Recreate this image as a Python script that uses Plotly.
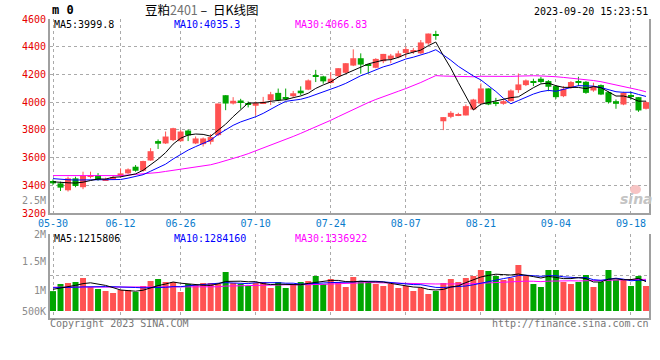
import plotly.graph_objects as go
import pandas as pd

# ---------------- data ----------------
dates = ["05-30", "05-31", "06-01", "06-02", "06-05", "06-06", "06-07", "06-08", "06-09",
         "06-12", "06-13", "06-14", "06-15", "06-16", "06-19", "06-20", "06-21",
         "06-26", "06-27", "06-28", "06-29", "06-30",
         "07-03", "07-04", "07-05", "07-06", "07-07", "07-10", "07-11", "07-12", "07-13", "07-14",
         "07-17", "07-18", "07-19", "07-20", "07-21", "07-24", "07-25", "07-26", "07-27", "07-28",
         "07-31", "08-01", "08-02", "08-03", "08-04", "08-07", "08-08", "08-09", "08-10", "08-11",
         "08-14", "08-15", "08-16", "08-17", "08-18", "08-21", "08-22", "08-23", "08-24", "08-25",
         "08-28", "08-29", "08-30", "08-31", "09-01", "09-04", "09-05", "09-06", "09-07", "09-08",
         "09-11", "09-12", "09-13", "09-14", "09-15", "09-18", "09-19", "09-20"]

opens = [3431, 3414, 3364, 3450, 3386, 3460, 3474, 3438, 3448, 3467,
         3486, 3534, 3505, 3579, 3719, 3702, 3726, 3718, 3795, 3702,
         3697, 3714, 3762, 4050, 3990, 4012, 3993, 3974, 3993, 4014,
         4067, 4031, 4043, 4083, 4090, 4191, 4186, 4138, 4188, 4212,
         4264, 4317, 4274, 4248, 4295, 4312, 4324, 4355, 4364, 4352,
         4424, 4490, 3862, 3894, 3906, 3904, 3947, 3990, 4099, 4000,
         3988, 4007, 4087, 4123, 4149, 4169, 4152, 4116, 4043, 4104,
         4149, 4147, 4084, 4123, 4072, 4007, 3983, 4048, 4036, 3952]
highs = [3443, 3426, 3462, 3462, 3498, 3498, 3488, 3455, 3472, 3522,
         3522, 3546, 3577, 3668, 3731, 3788, 3815, 3798, 3803, 3752,
         3745, 3770, 3990, 4050, 4036, 4024, 4005, 4005, 4038, 4074,
         4098, 4098, 4081, 4114, 4164, 4233, 4190, 4217, 4245, 4281,
         4381, 4352, 4276, 4317, 4348, 4348, 4371, 4400, 4390, 4448,
         4495, 4515, 3892, 3935, 3923, 3983, 4024, 4135, 4099, 4031,
         4014, 4092, 4207, 4164, 4169, 4183, 4159, 4123, 4116, 4152,
         4183, 4152, 4140, 4128, 4077, 4019, 4075, 4075, 4036, 4007]
lows = [3402, 3359, 3355, 3386, 3372, 3450, 3433, 3431, 3438, 3455,
        3482, 3498, 3498, 3577, 3662, 3698, 3719, 3716, 3719, 3697,
        3680, 3695, 3755, 3942, 3983, 3952, 3962, 3905, 3986, 3979,
        4007, 4014, 4033, 4050, 4086, 4145, 4133, 4133, 4181, 4210,
        4260, 4205, 4205, 4245, 4281, 4281, 4317, 4324, 4348, 4348,
        4414, 4450, 3798, 3884, 3899, 3904, 3942, 3990, 3978, 3971,
        3981, 4005, 4067, 4116, 4116, 4135, 4079, 4024, 4036, 4096,
        4116, 4060, 4075, 4051, 3990, 3952, 3978, 4019, 3930, 3947]
closes = [3414, 3383, 3450, 3395, 3470, 3474, 3440, 3445, 3460, 3486,
          3515, 3505, 3575, 3646, 3700, 3752, 3812, 3788, 3760, 3738,
          3738, 3748, 3990, 3990, 4010, 3998, 3981, 3993, 4002, 4057,
          4014, 4024, 4064, 4064, 4157, 4186, 4150, 4169, 4245, 4281,
          4317, 4271, 4267, 4312, 4348, 4336, 4352, 4383, 4376, 4431,
          4495, 4484, 3892, 3923, 3913, 3971, 4019, 4099, 3983, 3990,
          4007, 4084, 4128, 4157, 4145, 4145, 4111, 4036, 4096, 4145,
          4143, 4067, 4111, 4055, 4000, 3988, 4067, 4040, 3940, 4000]
volumes = [980000, 1107000, 1125000, 1143000, 1214000, 1054000, 1018000, 982000, 946000, 1000000,
           1000000, 964000, 1071000, 1161000, 1196000, 1143000, 1143000, 964000, 1107000, 1089000,
           1125000, 1125000, 1107000, 1321000, 1125000, 1107000, 1071000, 1125000, 1143000, 1036000,
           1143000, 1036000, 1107000, 1143000, 1161000, 1250000, 1107000, 1196000, 1143000, 1054000,
           1232000, 1161000, 1143000, 1107000, 1071000, 1107000, 1036000, 1071000, 982000, 1036000,
           929000, 982000, 1125000, 1196000, 1143000, 1214000, 1250000, 1357000, 1339000, 1250000,
           1179000, 1214000, 1446000, 1250000, 1107000, 1054000, 1357000, 1357000, 1143000, 1107000,
           1143000, 1268000, 1054000, 1143000, 1357000, 1179000, 1179000, 1071000, 1250000, 1071000]

# moving-average values shown before each window is complete
ma5_head = [3425, 3420, 3418, 3416]
ma10_head = [3448, 3442, 3440, 3438, 3438, 3438, 3440, 3440, 3441]
ma30_head = [3470, 3470, 3469, 3469, 3468, 3468, 3467, 3467, 3467, 3470,
             3474, 3478, 3481, 3485, 3492, 3500, 3508, 3515, 3522, 3530,
             3538, 3548, 3562, 3577, 3593, 3610, 3628, 3648, 3669]
vma5_head = [1012000, 1030000, 1060000, 1083000]
vma10_head = [1040000, 1040000, 1045000, 1050000, 1055000, 1060000, 1060000, 1060000, 1058000]
vma30_head = [1050000, 1050000, 1050000, 1050000, 1050000, 1050000, 1050000, 1050000, 1050000, 1050000,
              1050000, 1050000, 1050000, 1050000, 1050000, 1050000, 1050000, 1050000, 1050000, 1050000,
              1050000, 1055000, 1058000, 1070000, 1074000, 1078000, 1081000, 1084000, 1087000]

price_ticks = [3200, 3400, 3600, 3800, 4000, 4200, 4400, 4600]
date_ticks = ["05-30", "06-12", "06-26", "07-10", "07-24", "08-07", "08-21", "09-04", "09-18"]
vol_labels = ["2.5M", "2M", "1.5M", "1M", "500K"]
vol_label_y_px = [200.5, 234, 261, 290, 311]

title_main = "豆粕"
title_code = "2401"
title_tail = "&nbsp;–&nbsp;&nbsp;日K线图"
timestamp = "2023-09-20 15:23:51"
price_legend = [("MA5:3999.8", "#000000"), ("MA10:4035.3", "#0000ff"), ("MA30:4066.83", "#ff00ff")]
vol_legend = [("MA5:1215806", "#000000"), ("MA10:1284160", "#0000ff"), ("MA30:1336922", "#ff00ff")]

# ---------------- styling ----------------
W, H = 660, 360
L, R, T, B = 50, 11, 19, 42
PW, PH = W - L - R, H - T - B
RED, GREEN = "#ff5252", "#00a600"
GRID = "#aaaaaa"
AXIS = "#a0a0a0"
MONO = "DejaVu Sans Mono"
VOL_BASE = 625000


def px(x):
    return (x - L) / PW


def py(y):
    return (H - B - y) / PH


def ma(values, n, head):
    s = pd.Series(values, dtype=float).rolling(n).mean().tolist()
    return list(head) + s[len(head):]


colors = [RED if c >= o else GREEN for o, c in zip(opens, closes)]
body_base = [min(o, c) for o, c in zip(opens, closes)]
body_h = [max(abs(c - o), 5) for o, c in zip(opens, closes)]

fig = go.Figure()

# wicks
for col in (RED, GREEN):
    wx, wy = [], []
    for d, h, l, c in zip(dates, highs, lows, colors):
        if c == col:
            wx += [d, d, None]
            wy += [l, h, None]
    fig.add_trace(go.Scatter(x=wx, y=wy, mode="lines", line=dict(color=col, width=1),
                             hoverinfo="skip", xaxis="x", yaxis="y"))

# bodies
fig.add_trace(go.Bar(x=dates, y=body_h, base=body_base, width=0.8,
                     marker=dict(color=colors, line=dict(width=0)), xaxis="x", yaxis="y"))

# price MAs
for n, head, col in ((30, ma30_head, "#ff00ff"), (10, ma10_head, "#0000ff"), (5, ma5_head, "#000000")):
    fig.add_trace(go.Scatter(x=dates, y=ma(closes, n, head), mode="lines",
                             line=dict(color=col, width=1), xaxis="x", yaxis="y"))

# volume bars
fig.add_trace(go.Bar(x=dates, y=[v - VOL_BASE for v in volumes], base=VOL_BASE, width=0.8,
                     marker=dict(color=colors, line=dict(width=0)), xaxis="x2", yaxis="y2"))
for n, head, col in ((30, vma30_head, "#ff00ff"), (10, vma10_head, "#0000ff"), (5, vma5_head, "#000000")):
    fig.add_trace(go.Scatter(x=dates, y=ma(volumes, n, head), mode="lines",
                             line=dict(color=col, width=1), xaxis="x2", yaxis="y2"))

main_dom = [py(213), 1]
vol_dom = [0, py(234)]

xcommon = dict(type="category", categoryorder="array", categoryarray=dates,
               range=[-0.4, 79.4], tickmode="array", tickvals=date_ticks,
               showgrid=True, gridcolor=GRID, griddash="dot", gridwidth=1,
               showline=True, linecolor=AXIS, linewidth=2, zeroline=False, ticks="")

annotations = []


def ann(text, x, y, xanchor="left", color="#000", size=10, family=MONO):
    annotations.append(dict(text=text, x=px(x), y=py(y), xref="paper", yref="paper",
                            xanchor=xanchor, yanchor="middle", showarrow=False, borderpad=0,
                            font=dict(family=family, size=size, color=color)))


ann("<b>m 0</b>", 51, 10.5, size=12)
ann(title_main + "<span style='color:#707070'>" + title_code + "</span>" + title_tail,
    201, 9.5, xanchor="center", size=12.5, family="Noto Sans CJK SC")
ann(timestamp, 649, 11.5, xanchor="right")
for (t, c), xx in zip(price_legend, (53, 173, 294)):
    ann(t, xx, 24.5, color=c)
for (t, c), xx in zip(vol_legend, (53, 173, 294)):
    ann(t, xx, 238.5, color=c)
for t, yy in zip(vol_labels, vol_label_y_px):
    ann(t, 47, yy, xanchor="right", color="#8c8c8c")
ann("Copyright 2023 SINA.COM", 49, 323.5, color="#777777")
ann("http://finance.sina.com.cn", 650, 323.5, xanchor="right", color="#777777")
ann("<b><i>sina</i></b>", 636, 199, xanchor="center", color="#c4c4c4", size=14, family="DejaVu Sans")

shapes = [dict(type="circle", xref="paper", yref="paper", x0=px(630), x1=px(641), y0=py(194), y1=py(185),
               fillcolor="#f7c4c4", line=dict(width=0), layer="above")]

fig.update_layout(
    width=W, height=H, margin=dict(l=L, r=R, t=T, b=B, autoexpand=False),
    paper_bgcolor="white", plot_bgcolor="white", showlegend=False,
    bargap=0.2, barmode="overlay",
    xaxis=dict(**xcommon, domain=[0, 1], anchor="y", showticklabels=True,
               tickfont=dict(family=MONO, size=10, color="#0a7ccc")),
    yaxis=dict(domain=main_dom, range=[3200, 4600], tickmode="array", tickvals=price_ticks,
               showgrid=True, gridcolor=GRID, griddash="dot", gridwidth=1,
               showline=True, mirror=True, linecolor=AXIS, linewidth=2, zeroline=False,
               tickfont=dict(family=MONO, size=10, color="#e60000"), anchor="x"),
    xaxis2=dict(**xcommon, domain=[0, 1], anchor="y2", matches="x", showticklabels=False),
    yaxis2=dict(domain=vol_dom, range=[500000, 2000000], tickmode="array", tickvals=[1267857, 2000000],
                showticklabels=False, showgrid=True, gridcolor=GRID, griddash="dot", gridwidth=1,
                showline=True, mirror=True, linecolor=AXIS, linewidth=2, zeroline=False, anchor="x2"),
    annotations=annotations, shapes=shapes,
)

fig.write_html("out.html", config={"displayModeBar": False},
               post_script="document.body.style.margin='0';document.body.style.padding='0';")
